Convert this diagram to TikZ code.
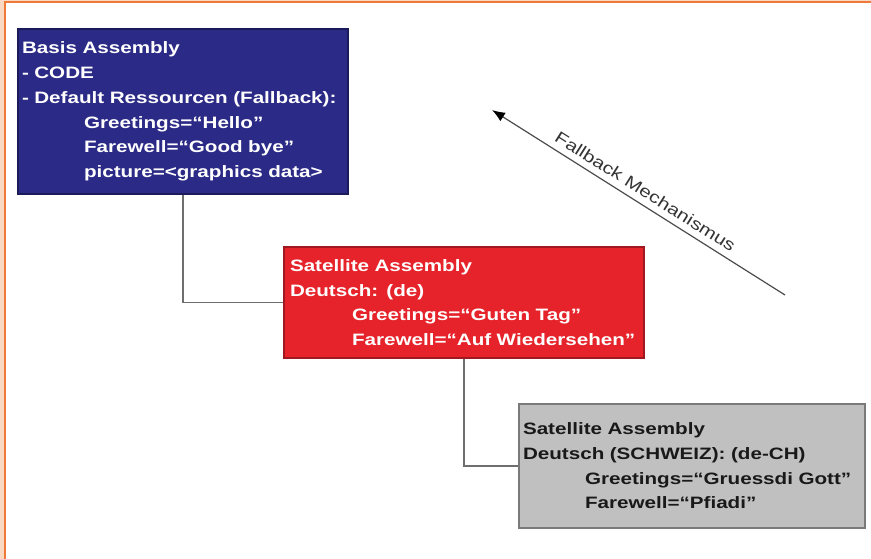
\documentclass[tikz,border=0pt]{standalone}
\usepackage{fontspec}
\setmainfont{Liberation Sans}[FakeStretch=1.25]
\usetikzlibrary{arrows.meta}
\definecolor{basisblue}{HTML}{2B2A86}
\definecolor{basisborder}{HTML}{1C1B5A}
\definecolor{satred}{HTML}{E6232A}
\definecolor{satredborder}{HTML}{A01820}
\definecolor{chgrey}{HTML}{C0C0C0}
\definecolor{chborder}{HTML}{7A7A7A}
\definecolor{framepeach}{HTML}{F9D9C2}
\definecolor{frameorange}{HTML}{EE7A3A}
\definecolor{linkgrey}{HTML}{6E6E6E}
\newcommand{\ind}{\hspace*{62pt}}
\tikzset{
  assybox/.style={draw, line width=1.2pt, inner xsep=4pt, inner ysep=0pt,
    align=left, anchor=center,
    font=\bfseries\fontsize{16.5}{24.7}\selectfont},
  link/.style={draw=linkgrey, line width=1.5pt},
  fallarrow/.style={draw=black!70, line width=1.2pt, {Latex[length=13pt,width=10pt,black]}-},
}
\begin{document}
\begin{tikzpicture}[x=1pt,y=-1pt]
\useasboundingbox (0,0) rectangle (871,559);
% frame
\fill[framepeach] (0,0) rectangle (4,559);
\fill[framepeach] (0,0) rectangle (871,0.8);
\draw[frameorange, line width=2pt] (4.8,559) -- (4.8,1.8) -- (871,1.8);
% boxes
\node[assybox, fill=basisblue, draw=basisborder, text=white,
      text width=322pt, minimum height=165pt] (basis) at (183,111.5)
  {Basis Assembly\\
   - CODE\\
   - Default Ressourcen (Fallback):\\
   \ind Greetings=“Hello”\\
   \ind Farewell=“Good bye”\\
   \ind picture=<graphics data>};
\node[assybox, fill=satred, draw=satredborder, text=white, inner xsep=6pt,
      text width=348pt, minimum height=111pt] (de) at (464,302.5)
  {Satellite Assembly\\
   Deutsch: (de)\\
   \ind Greetings=“Guten Tag”\\
   \ind Farewell=“Auf Wiedersehen”};
\node[assybox, fill=chgrey, draw=chborder, text=black!90,
      text width=338pt, minimum height=124pt] (dech) at (692,466)
  {Satellite Assembly\\
   Deutsch (SCHWEIZ): (de-CH)\\
   \ind Greetings=“Gruessdi Gott”\\
   \ind Farewell=“Pfiadi”};
% connectors
\draw[link] (basis.south) |- (de.west);
\draw[link] (de.south) |- (dech.west);
% fallback arrow
\coordinate (fbhead) at (492,110);
\coordinate (fbtail) at (785,295);
\draw[fallarrow] (fbhead) -- node[midway, sloped, above=3pt, text=black!80,
   font=\fontsize{16.5}{20}\selectfont] (fblabel) {Fallback Mechanismus} (fbtail);
\end{tikzpicture}
\end{document}
